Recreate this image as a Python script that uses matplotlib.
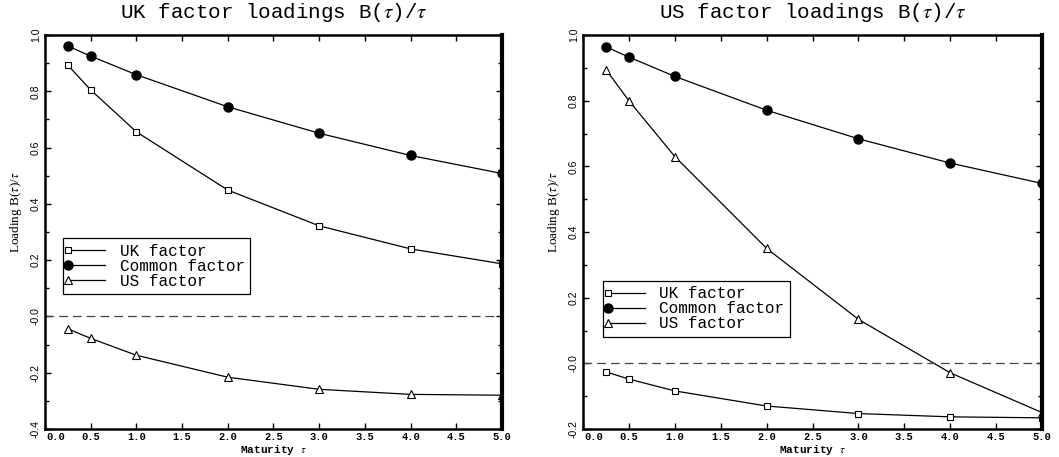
import numpy as np
import matplotlib
matplotlib.use("Agg")
import matplotlib.pyplot as plt
import matplotlib.transforms as mtransforms
from matplotlib.ticker import MultipleLocator, FixedLocator, FixedFormatter
from matplotlib.legend_handler import HandlerLine2D
from matplotlib.lines import Line2D

# maturities (years)
maturity = [0.25, 0.5, 1.0, 2.0, 3.0, 4.0, 5.0]

# UK panel loadings
uk_panel_uk = [0.893, 0.805, 0.656, 0.449, 0.322, 0.240, 0.187]
uk_panel_common = [0.961, 0.925, 0.859, 0.745, 0.651, 0.572, 0.508]
uk_panel_us = [-0.044, -0.078, -0.138, -0.216, -0.259, -0.277, -0.280]

# US panel loadings
us_panel_uk = [-0.026, -0.048, -0.084, -0.130, -0.153, -0.163, -0.166]
us_panel_common = [0.964, 0.933, 0.874, 0.771, 0.684, 0.610, 0.548]
us_panel_us = [0.895, 0.800, 0.630, 0.350, 0.134, -0.029, -0.150]

titles = ["UK factor loadings B($\\tau$)/$\\tau$", "US factor loadings B($\\tau$)/$\\tau$"]
series_names = ["UK factor", "Common factor", "US factor"]
xtick_vals = [0.0, 0.5, 1.0, 1.5, 2.0, 2.5, 3.0, 3.5, 4.0, 4.5, 5.0]
xtick_labels = ["0.0", "0.5", "1.0", "1.5", "2.0", "2.5", "3.0", "3.5", "4.0", "4.5", "5.0"]
left_yticks = [-0.4, -0.2, 0.0, 0.2, 0.4, 0.6, 0.8, 1.0]
left_ylabels = ["-0.4", "-0.2", "-0.0", "0.2", "0.4", "0.6", "0.8", "1.0"]
right_yticks = [-0.2, 0.0, 0.2, 0.4, 0.6, 0.8, 1.0]
right_ylabels = ["-0.2", "-0.0", "0.2", "0.4", "0.6", "0.8", "1.0"]

mono = "Liberation Mono"
serif = "Liberation Serif"
sans = "Liberation Sans"
plt.rcParams["mathtext.fontset"] = "stix"


# legend entries drawn as marker first, then the line
class MarkerFirst(HandlerLine2D):
    def create_artists(self, *args, **kwargs):
        arts = super().create_artists(*args, **kwargs)
        for a in arts:
            if isinstance(a, Line2D):
                a.set_markevery([0])
        return arts


fig = plt.figure(figsize=(10.59, 4.57), dpi=100)
ax1 = fig.add_axes([0.0425, 0.0613, 0.4315, 0.862])
ax2 = fig.add_axes([0.5505, 0.0613, 0.4335, 0.862])


def draw_panel(ax, uk, common, us, title, ylim, yticks, ylabels, leg_anchor):
    ax.plot(maturity, uk, color="black", lw=0.9, marker="s", ms=4.5,
            mfc="white", mec="black", mew=0.8, label=series_names[0])
    ax.plot(maturity, common, color="black", lw=0.9, marker="o", ms=6.5,
            mfc="black", mec="black", label=series_names[1])
    ax.plot(maturity, us, color="black", lw=0.9, marker="^", ms=5.5,
            mfc="white", mec="black", mew=0.8, label=series_names[2])
    ax.axhline(0.0, color="#444444", lw=0.9, ls=(0, (7, 4)))

    ax.set_xlim(0, 5)
    ax.set_ylim(*ylim)
    ax.xaxis.set_major_locator(FixedLocator(xtick_vals))
    ax.xaxis.set_major_formatter(FixedFormatter(xtick_labels))
    ax.yaxis.set_major_locator(FixedLocator(yticks))
    ax.yaxis.set_major_formatter(FixedFormatter(ylabels))
    ax.yaxis.set_minor_locator(MultipleLocator(0.1))
    ax.tick_params(which="both", direction="in", top=True, right=True,
                   width=1.0, color="black")
    ax.tick_params(which="major", length=4)
    ax.tick_params(axis="x", which="major", pad=2)
    ax.tick_params(axis="y", which="major", pad=3)
    ax.tick_params(which="minor", length=3)
    for lab in ax.get_xticklabels():
        lab.set_fontfamily(mono)
        lab.set_fontweight("bold")
        lab.set_fontsize(7.5)
    for lab in ax.get_yticklabels():
        lab.set_fontfamily(sans)
        lab.set_fontsize(7.5)
        lab.set_rotation(90)
        lab.set_va("center")
    # first x label sits right of its tick so it clears the y labels
    first = ax.xaxis.get_major_ticks()[0].label1
    first.set_horizontalalignment("left")
    first.set_transform(first.get_transform() +
                        mtransforms.ScaledTranslation(1 / 100, 0, fig.dpi_scale_trans))

    for side in ["left", "bottom", "top"]:
        ax.spines[side].set_linewidth(1.8)
    ax.spines["right"].set_linewidth(3.0)

    ax.set_title(title, fontfamily=mono, fontsize=15, pad=12)
    ax.set_xlabel("Maturity $\\tau$", fontfamily=mono, fontweight="bold",
                  fontsize=8, labelpad=1)
    ax.set_ylabel("Loading B($\\tau$)/$\\tau$", fontfamily=serif, fontsize=9.5)
    ax.yaxis.set_label_coords(-0.045, 0.55)

    leg = ax.legend(loc="upper left", bbox_to_anchor=leg_anchor,
                    borderaxespad=0,
                    prop={"family": mono, "size": 11.5}, frameon=True,
                    fancybox=False, edgecolor="black", framealpha=1,
                    handlelength=2.3, handletextpad=0.9, labelspacing=0.0,
                    borderpad=0.35, numpoints=2,
                    handler_map={Line2D: MarkerFirst(marker_pad=0.0)})
    leg.get_frame().set_linewidth(0.9)


draw_panel(ax1, uk_panel_uk, uk_panel_common, uk_panel_us, titles[0],
           (-0.4, 1.0), left_yticks, left_ylabels, (0.039, 0.485))
draw_panel(ax2, us_panel_uk, us_panel_common, us_panel_us, titles[1],
           (-0.2, 1.0), right_yticks, right_ylabels, (0.043, 0.376))

fig.savefig("out.png", dpi=100)
